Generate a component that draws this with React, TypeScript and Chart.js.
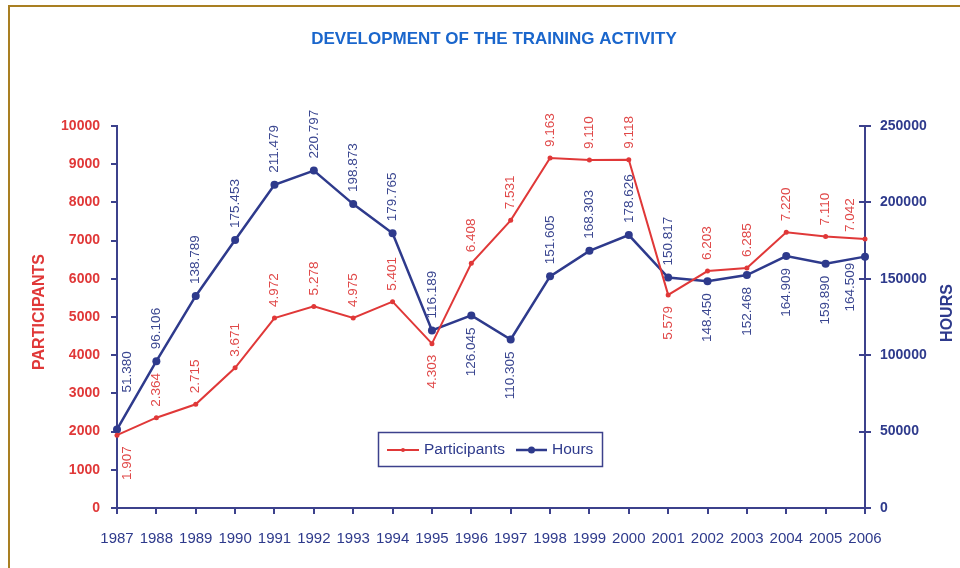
import React, { useEffect, useRef } from "react";
import { Chart, registerables } from "chart.js";

Chart.register(...registerables);

const years = ["1987","1988","1989","1990","1991","1992","1993","1994","1995","1996","1997","1998","1999","2000","2001","2002","2003","2004","2005","2006"];
const participants = [1907, 2364, 2715, 3671, 4972, 5278, 4975, 5401, 4303, 6408, 7531, 9163, 9110, 9118, 5579, 6203, 6285, 7220, 7110, 7042];
const hours = [51380, 96106, 138789, 175453, 211479, 220797, 198873, 179765, 116189, 126045, 110305, 151605, 168303, 178626, 150817, 148450, 152468, 164909, 159890, 164509];
const participantsTicks = [0, 1000, 2000, 3000, 4000, 5000, 6000, 7000, 8000, 9000, 10000];
const hoursTicks = [0, 50000, 100000, 150000, 200000, 250000];

const TITLE = "DEVELOPMENT OF THE TRAINING ACTIVITY";
const RED = "#e03838";
const NAVY = "#2e3a8c";
const AXIS = "#3c418c";
const SANS = "'Liberation Sans', Arial, sans-serif";

// label placement (style): indices where label goes below the point
const partBelow = new Set([0, 8, 14]);
const hoursBelow = new Set([9, 10, 15, 16, 17, 18, 19]);

const fmt = (v: number) => String(v).replace(/\B(?=(\d{3})+(?!\d))/g, ".");

const decorPlugin = {
  id: "decor",
  beforeDraw(chart: any) {
    const ctx = chart.ctx;
    ctx.save();
    ctx.fillStyle = "#ffffff";
    ctx.fillRect(0, 0, chart.width, chart.height);
    ctx.strokeStyle = "#a97f22";
    ctx.lineWidth = 2;
    ctx.strokeRect(9, 6, 3000, 3000);
    ctx.restore();
  },
  afterDraw(chart: any) {
    const ctx = chart.ctx;
    const area = chart.chartArea;
    ctx.save();
    // title
    ctx.fillStyle = "#1a66cc";
    ctx.font = `bold 17px ${SANS}`;
    ctx.textAlign = "center";
    ctx.textBaseline = "middle";
    ctx.fillText(TITLE, 494, 39);

    // axis titles
    ctx.save();
    ctx.translate(40, 312);
    ctx.rotate(-Math.PI / 2);
    ctx.fillStyle = RED;
    ctx.font = `bold 16px ${SANS}`;
    ctx.fillText("PARTICIPANTS", 0, 0);
    ctx.restore();

    ctx.save();
    ctx.translate(948, 313);
    ctx.rotate(-Math.PI / 2);
    ctx.fillStyle = NAVY;
    ctx.font = `bold 16px ${SANS}`;
    ctx.fillText("HOURS", 0, 0);
    ctx.restore();

    // inner half of right axis ticks
    const y1 = chart.scales.y1;
    ctx.strokeStyle = AXIS;
    ctx.lineWidth = 2;
    y1.ticks.forEach((t: any) => {
      const py = Math.round(y1.getPixelForValue(t.value));
      ctx.beginPath();
      ctx.moveTo(area.right - 6, py);
      ctx.lineTo(area.right, py);
      ctx.stroke();
    });

    // legend
    const lx = 378, ly = 432, lw = 224, lh = 34;
    ctx.fillStyle = "#ffffff";
    ctx.fillRect(lx, ly, lw, lh);
    ctx.strokeStyle = AXIS;
    ctx.lineWidth = 1.5;
    ctx.strokeRect(lx + 0.5, ly + 0.5, lw, lh);
    const cy = ly + lh / 2 + 1;
    const items = [
      { label: chart.data.datasets[0].label, color: RED, x0: 387, x1: 419, r: 2, tx: 424, lw: 2 },
      { label: chart.data.datasets[1].label, color: NAVY, x0: 516, x1: 547, r: 3.5, tx: 552, lw: 2.5 },
    ];
    items.forEach((it) => {
      ctx.strokeStyle = it.color;
      ctx.lineWidth = it.lw;
      ctx.beginPath();
      ctx.moveTo(it.x0, cy);
      ctx.lineTo(it.x1, cy);
      ctx.stroke();
      ctx.fillStyle = it.color;
      ctx.beginPath();
      ctx.arc((it.x0 + it.x1) / 2, cy, it.r, 0, Math.PI * 2);
      ctx.fill();
      ctx.fillStyle = NAVY;
      ctx.font = `15.5px ${SANS}`;
      ctx.textAlign = "left";
      ctx.textBaseline = "middle";
      ctx.fillText(it.label, it.tx, cy);
    });
    ctx.restore();
  },
  afterDatasetsDraw(chart: any) {
    const ctx = chart.ctx;
    const n = chart.data.labels.length;
    ctx.save();
    ctx.font = `13.5px ${SANS}`;
    ctx.textBaseline = "middle";
    chart.data.datasets.forEach((ds: any, di: number) => {
      const meta = chart.getDatasetMeta(di);
      const below = di === 0 ? partBelow : hoursBelow;
      ctx.fillStyle = di === 0 ? "#e04848" : "#3a4690";
      meta.data.forEach((pt: any, i: number) => {
        const txt = fmt(ds.data[i]);
        let gap = di === 0 ? 11 : 12;
        if (di === 1 && i === 0) gap = 37;
        if (i === n - 1) gap = di === 0 ? 7 : 6;
        const dx = i === 0 ? 10 : i === n - 1 ? -15 : 0;
        ctx.save();
        if (below.has(i)) {
          ctx.translate(pt.x + dx, pt.y + gap);
          ctx.rotate(-Math.PI / 2);
          ctx.textAlign = "right";
        } else {
          ctx.translate(pt.x + dx, pt.y - gap);
          ctx.rotate(-Math.PI / 2);
          ctx.textAlign = "left";
        }
        ctx.fillText(txt, 0, 0);
        ctx.restore();
      });
    });
    ctx.restore();
  },
};

export default function App() {
  const ref = useRef<HTMLCanvasElement | null>(null);
  useEffect(() => {
    if (!ref.current) return;
    const chart = new Chart(ref.current, {
      type: "line",
      data: {
        labels: years,
        datasets: [
          {
            label: "Participants",
            data: participants,
            yAxisID: "y",
            borderColor: RED,
            backgroundColor: RED,
            borderWidth: 2,
            pointRadius: 2.5,
            pointBackgroundColor: RED,
            pointBorderWidth: 0,
            tension: 0,
          },
          {
            label: "Hours",
            data: hours,
            yAxisID: "y1",
            borderColor: NAVY,
            backgroundColor: NAVY,
            borderWidth: 2.5,
            pointRadius: 4,
            pointBackgroundColor: NAVY,
            pointBorderWidth: 0,
            tension: 0,
          },
        ],
      },
      options: {
        responsive: false,
        animation: false,
        layout: { padding: { top: 126, left: 0, right: 0, bottom: 0 } },
        plugins: {
          legend: { display: false },
          title: { display: false },
          tooltip: { enabled: false },
        },
        scales: {
          x: {
            type: "category",
            offset: false,
            grid: { drawOnChartArea: false, drawTicks: true, tickLength: 6, color: AXIS, lineWidth: 2 },
            border: { color: AXIS, width: 2 },
            ticks: { color: NAVY, font: { family: SANS, size: 15 }, padding: 16, maxRotation: 0, autoSkip: false },
            afterFit: (s: any) => { s.height = 60; },
          },
          y: {
            position: "left",
            min: 0,
            max: 10000,
            afterBuildTicks: (s: any) => { s.ticks = participantsTicks.map((v) => ({ value: v })); },
            grid: { drawOnChartArea: false, drawTicks: true, tickLength: 6, color: AXIS, lineWidth: 2 },
            border: { color: AXIS, width: 2 },
            ticks: { color: RED, font: { family: SANS, size: 14, weight: "bold" }, padding: 11, callback: (v: any) => String(v) },
            afterFit: (s: any) => { s.width = 117; },
          },
          y1: {
            position: "right",
            min: 0,
            max: 250000,
            afterBuildTicks: (s: any) => { s.ticks = hoursTicks.map((v) => ({ value: v })); },
            grid: { drawOnChartArea: false, drawTicks: true, tickLength: 6, color: AXIS, lineWidth: 2 },
            border: { color: AXIS, width: 2 },
            ticks: { color: NAVY, font: { family: SANS, size: 14, weight: "bold" }, padding: 9, callback: (v: any) => String(v) },
            afterFit: (s: any) => { s.width = 95; },
          },
        },
      },
      plugins: [decorPlugin],
    });
    return () => chart.destroy();
  }, []);
  return (
    <div style={{ position: "absolute", left: 0, top: 0, width: 960, height: 568 }}>
      <canvas ref={ref} width={960} height={568} style={{ display: "block" }} />
    </div>
  );
}
